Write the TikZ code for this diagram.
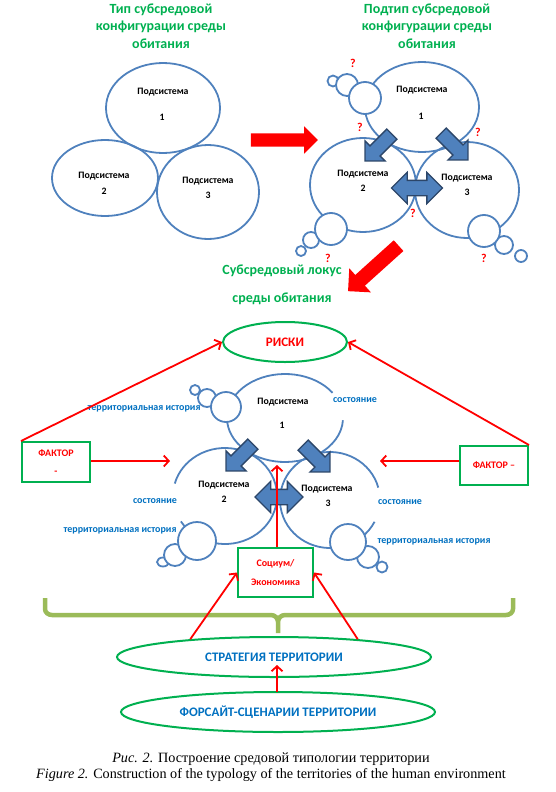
\documentclass[tikz,border=0pt]{standalone}
\usepackage{fontspec}
\setmainfont{Liberation Serif}
\newfontfamily\calibri{Carlito}
\usetikzlibrary{arrows.meta,shapes.arrows,shapes.geometric}
\definecolor{subblue}{RGB}{79,129,189}
\definecolor{edgeblue}{RGB}{44,70,105}
\definecolor{titlegreen}{RGB}{0,176,80}
\definecolor{labelblue}{RGB}{0,112,192}
\definecolor{bracegreen}{RGB}{155,187,89}

\begin{document}
\begin{tikzpicture}[x=1pt,y=1pt,
    sub/.style={draw=subblue,line width=1.8pt},
    bubble/.style={draw=subblue,line width=1.8pt,fill=white},
    subtext/.style={font=\calibri\bfseries\fontsize{9.8}{11}\selectfont},
    title/.style={font=\calibri\bfseries\fontsize{14}{17.5}\selectfont,text=titlegreen,align=center},
    lbl/.style={font=\calibri\bfseries\fontsize{10}{12}\selectfont,text=labelblue},
    query/.style={font=\calibri\bfseries\fontsize{12}{13}\selectfont,text=red},
    blockarrow/.style={single arrow,draw=edgeblue,fill=subblue,line width=1.3pt,inner xsep=0pt,inner ysep=6.5pt,single arrow head extend=7pt,minimum height=38pt},
    twoway/.style={double arrow,draw=edgeblue,fill=subblue,line width=1.3pt,inner xsep=0pt,inner ysep=7pt,double arrow head extend=8pt},
    bigarrow/.style={single arrow,fill=red,inner xsep=0pt,inner ysep=6.5pt,single arrow head extend=7pt},
    greenbox/.style={draw=titlegreen,line width=2pt,align=center,text=red,font=\calibri\bfseries\fontsize{10}{11}\selectfont},
    greenoval/.style={ellipse,draw=titlegreen,line width=2pt,inner sep=0pt},
    redarrow/.style={red,line width=1.8pt,-{Straight Barb[length=5pt,width=11pt]}}]
\useasboundingbox (0,0) rectangle (556,-792);

% top left: type
\node[title] (type) at (161,-26) {Тип субсредовой\\конфигурации среды\\обитания};
\draw[sub] (163,-108) ellipse[x radius=57,y radius=45];
\draw[sub] (105,-178) ellipse[x radius=53,y radius=38];
\draw[sub] (208,-192) ellipse[x radius=51,y radius=47];
\node[subtext] (tp1) at (163,-92) {Подсистема};
\node[subtext] (tn1) at (162,-117) {1};
\node[subtext] (tp2) at (104,-176) {Подсистема};
\node[subtext] (tn2) at (104,-191) {2};
\node[subtext] (tp3) at (208,-181) {Подсистема};
\node[subtext] (tn3) at (208,-195) {3};

\node[bigarrow,minimum height=67pt] (go) at (281,-140) {};

% top right: subtype
\node[title] (subtype) at (427,-26) {Подтип субсредовой\\конфигурации среды\\обитания};
\draw[sub] (422,-107) ellipse[x radius=57,y radius=45];
\draw[sub] (363,-185) ellipse[x radius=53,y radius=47];
\draw[sub] (467,-190) ellipse[x radius=52,y radius=48];
\draw[bubble] (333,-81) circle[radius=5.5];
\draw[bubble] (347,-85) circle[radius=11];
\draw[bubble] (365,-98) circle[radius=16];
\draw[bubble] (301,-251) circle[radius=5];
\draw[bubble] (311,-240) circle[radius=8];
\draw[bubble] (331,-229) circle[radius=16];
\draw[bubble] (521,-256) circle[radius=6];
\draw[bubble] (504,-245) circle[radius=9];
\draw[bubble] (484,-231) circle[radius=16];
\node[subtext] (sp1) at (422,-90) {Подсистема};
\node[subtext] (sn1) at (421,-116) {1};
\node[subtext] (sp2) at (363,-174) {Подсистема};
\node[subtext] (sn2) at (363,-188) {2};
\node[subtext] (sp3) at (467,-178) {Подсистема};
\node[subtext] (sn3) at (467,-192) {3};
\node[blockarrow,rotate=225] (sa12) at (381,-145) {};
\node[blockarrow,rotate=-45] (sa13) at (452,-144) {};
\node[twoway,minimum height=51pt] (sa23) at (417,-188) {};
\foreach \qx/\qy [count=\qi] in {353/-63,360/-127,478/-132,413/-213,328/-258,484/-258}
    \node[query] (q\qi) at (\qx,\qy) {?};

\node[bigarrow,minimum height=68pt,inner ysep=7pt,single arrow head extend=9pt,rotate=222] (down) at (376,-266) {};
\node[title,font=\calibri\bfseries\fontsize{14}{28}\selectfont] (locus) at (282,-285) {Субсредовый локус\\среды обитания};

% bottom: locus
\node[greenoval,minimum width=124pt,minimum height=40pt,text=red,font=\calibri\bfseries\fontsize{13}{14}\selectfont] (risks) at (285,-342) {РИСКИ};

\draw[sub] ([shift={(35:58 and 44)}]285,-418) arc[start angle=35,end angle=357,x radius=58,y radius=44];
\draw[sub] ([shift={(212:52 and 48)}]225,-496) arc[start angle=212,end angle=525,x radius=52,y radius=48];
\draw[sub] ([shift={(15:50 and 48)}]330,-500) arc[start angle=15,end angle=333,x radius=50,y radius=48];
\draw[bubble] (195,-390) circle[radius=5];
\draw[bubble] (207,-398) circle[radius=9];
\draw[bubble] (226,-407) circle[radius=15];
\draw[bubble] (163,-562) ellipse[x radius=6,y radius=4.5];
\draw[bubble] (175,-555) circle[radius=11];
\draw[bubble] (197,-541) circle[radius=19];
\draw[bubble] (382,-567) circle[radius=5.5];
\draw[bubble] (368,-557) circle[radius=11];
\draw[bubble] (348,-542) circle[radius=18];

\node[subtext] (lp1) at (283,-402) {Подсистема};
\node[subtext] (ln1) at (282,-425) {1};
\node[subtext] (lp2) at (224,-485) {Подсистема};
\node[subtext] (ln2) at (224,-499) {2};
\node[subtext] (lp3) at (327,-489) {Подсистема};
\node[subtext] (ln3) at (328,-503) {3};

\node[lbl] (hist1) at (144,-409) {территориальная история};
\node[lbl] (state1) at (355,-400) {состояние};
\node[lbl] (state2) at (155,-501) {состояние};
\node[lbl] (hist2) at (120,-531) {территориальная история};
\node[lbl] (state3) at (400,-502) {состояние};
\node[lbl] (hist3) at (434,-542) {территориальная история};

\node[blockarrow,rotate=225] (la12) at (242,-455) {};
\node[blockarrow,rotate=-45] (la13) at (314,-456) {};
\node[twoway,minimum height=48pt] (la23) at (279,-497) {};

\node[greenbox,minimum width=68pt,minimum height=40pt] (fleft) at (56,-462) {ФАКТОР\\[7pt]-};
\node[greenbox,minimum width=68pt,minimum height=39pt] (fright) at (494,-465.5) {ФАКТОР –};
\node[greenbox,minimum width=75pt,minimum height=49pt] (soc) at (275.5,-572.5) {Социум/\\[8pt]Экономика};

\coordinate (in2) at (170,-461);
\coordinate (in3) at (380,-461);
\coordinate (in1) at (277,-465);
\draw[redarrow] (fleft.north west) -- (risks.west);
\draw[redarrow] (fright.north east) -- (risks.east);
\draw[redarrow] (fleft.east |- in2) -- (in2);
\draw[redarrow] (fright.west |- in3) -- (in3);
\draw[redarrow] (in1 |- soc.north) -- (in1);

% brace and strategy
\draw[bracegreen,line width=4.5pt,line join=round]
    (45,-598) -- (45,-609) to[out=-90,in=180] (52,-615) -- (271,-615)
    to[out=0,in=90] (278,-622) -- (278,-633)
    (278,-622) to[out=90,in=180] (285,-615) -- (506,-615)
    to[out=0,in=-90] (513,-609) -- (513,-598);

\node[greenoval,minimum width=314pt,minimum height=40pt,text=labelblue,font=\calibri\bfseries\fontsize{13}{14}\selectfont] (strat) at (274,-657) {СТРАТЕГИЯ ТЕРРИТОРИИ};
\node[greenoval,minimum width=314pt,minimum height=40pt,text=labelblue,font=\calibri\bfseries\fontsize{13}{14}\selectfont] (fore) at (278,-712) {ФОРСАЙТ-СЦЕНАРИИ ТЕРРИТОРИИ};
\draw[redarrow] (strat.168) -- (soc.west);
\draw[redarrow] (strat.12) -- (soc.east);
\draw[redarrow] (277,-692) -- (277,-665);

\node[align=center,font=\fontsize{14.2}{16}\selectfont] (caption) at (271,-767) {\textit{Рис. 2.} Построение средовой типологии территории\\\textit{Figure 2.} Construction of the typology of the territories of the human environment};
\end{tikzpicture}
\end{document}
